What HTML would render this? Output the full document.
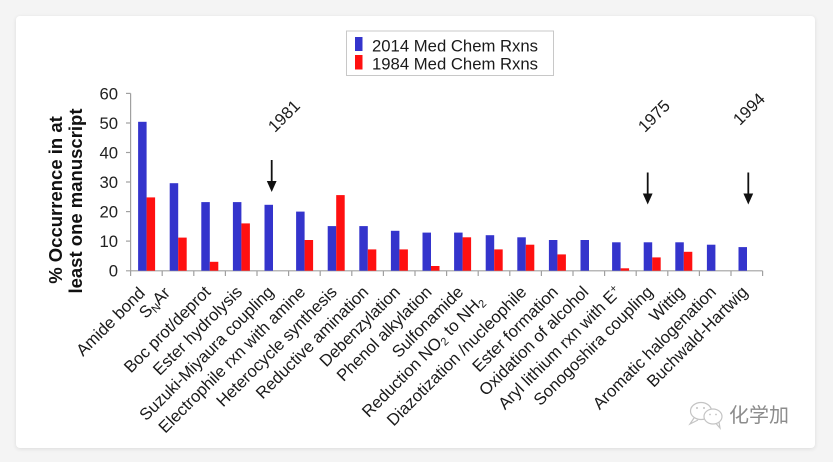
<!DOCTYPE html>
<html>
<head>
<meta charset="utf-8">
<style>
  html,body{margin:0;padding:0;background:#f4f4f4;}
  body{width:833px;height:462px;overflow:hidden;position:relative;}
  .card{position:absolute;left:16px;top:16px;width:799px;height:432px;background:#fff;border-radius:4px;box-shadow:0 1px 4px rgba(0,0,0,0.10);}
  svg{position:absolute;left:0;top:0;}
  text{font-family:"Liberation Sans",Arial,sans-serif;}
</style>
</head>
<body>
<div class="card"></div>
<svg width="833" height="462" viewBox="0 0 833 462" xmlns="http://www.w3.org/2000/svg">
  <!-- Legend -->
  <rect x="346.5" y="31" width="207" height="44.5" fill="#fff" stroke="#c8c8c8" stroke-width="1"/>
  <rect x="355" y="37" width="7.5" height="14" fill="#3434cc"/>
  <rect x="355" y="55" width="7.5" height="14.5" fill="#ff1010"/>
  <text x="372" y="51.5" font-size="16.7" fill="#1a1a1a">2014 Med Chem Rxns</text>
  <text x="372" y="69.5" font-size="16.7" fill="#1a1a1a">1984 Med Chem Rxns</text>

  <!-- Y axis title -->
  <text x="62" y="200" font-size="18.5" font-weight="bold" fill="#111" text-anchor="middle" transform="rotate(-90 62 200)">% Occurrence in at</text>
  <text x="82" y="201" font-size="18.5" font-weight="bold" fill="#111" text-anchor="middle" transform="rotate(-90 82 201)">least one manuscript</text>

  <!-- Y tick labels -->
  <g font-size="16.7" fill="#222" text-anchor="end">
    <text x="118" y="99.4">60</text>
    <text x="118" y="129">50</text>
    <text x="118" y="158.5">40</text>
    <text x="118" y="188">30</text>
    <text x="118" y="217.6">20</text>
    <text x="118" y="247.1">10</text>
    <text x="118" y="276.7">0</text>
  </g>

  <!-- Axes -->
  <g stroke="#a0a0a0" stroke-width="1.2" fill="none">
    <line x1="130.6" y1="93.4" x2="130.6" y2="271"/>
    <line x1="126" y1="93.4" x2="130.6" y2="93.4"/>
    <line x1="126" y1="123" x2="130.6" y2="123"/>
    <line x1="126" y1="152.5" x2="130.6" y2="152.5"/>
    <line x1="126" y1="182" x2="130.6" y2="182"/>
    <line x1="126" y1="211.6" x2="130.6" y2="211.6"/>
    <line x1="126" y1="241.1" x2="130.6" y2="241.1"/>
    <line x1="126" y1="270.8" x2="762.6" y2="270.8"/>
    <line x1="130.6" y1="270.8" x2="130.6" y2="276"/>
    <line x1="162.2" y1="270.8" x2="162.2" y2="276"/>
    <line x1="193.8" y1="270.8" x2="193.8" y2="276"/>
    <line x1="225.4" y1="270.8" x2="225.4" y2="276"/>
    <line x1="257" y1="270.8" x2="257" y2="276"/>
    <line x1="288.6" y1="270.8" x2="288.6" y2="276"/>
    <line x1="320.2" y1="270.8" x2="320.2" y2="276"/>
    <line x1="351.8" y1="270.8" x2="351.8" y2="276"/>
    <line x1="383.4" y1="270.8" x2="383.4" y2="276"/>
    <line x1="415" y1="270.8" x2="415" y2="276"/>
    <line x1="446.6" y1="270.8" x2="446.6" y2="276"/>
    <line x1="478.2" y1="270.8" x2="478.2" y2="276"/>
    <line x1="509.8" y1="270.8" x2="509.8" y2="276"/>
    <line x1="541.4" y1="270.8" x2="541.4" y2="276"/>
    <line x1="573" y1="270.8" x2="573" y2="276"/>
    <line x1="604.6" y1="270.8" x2="604.6" y2="276"/>
    <line x1="636.2" y1="270.8" x2="636.2" y2="276"/>
    <line x1="667.8" y1="270.8" x2="667.8" y2="276"/>
    <line x1="699.4" y1="270.8" x2="699.4" y2="276"/>
    <line x1="731" y1="270.8" x2="731" y2="276"/>
    <line x1="762.6" y1="270.8" x2="762.6" y2="276"/>
  </g>

  <!-- Bars: y(v)=270.7-2.955v ; blue x=start+7.5 w=8.5 ; red x=start+16 w=8.5 -->
  <g fill="#3434cc">
    <rect x="138.1" y="121.8" width="8.5" height="148.9"/>
    <rect x="169.7" y="183.2" width="8.5" height="87.5"/>
    <rect x="201.3" y="202.1" width="8.5" height="68.6"/>
    <rect x="232.9" y="202.1" width="8.5" height="68.6"/>
    <rect x="264.5" y="204.8" width="8.5" height="65.9"/>
    <rect x="296.1" y="211.6" width="8.5" height="59.1"/>
    <rect x="327.7" y="226.1" width="8.5" height="44.6"/>
    <rect x="359.3" y="226.1" width="8.5" height="44.6"/>
    <rect x="390.9" y="230.8" width="8.5" height="39.9"/>
    <rect x="422.5" y="232.6" width="8.5" height="38.1"/>
    <rect x="454.1" y="232.6" width="8.5" height="38.1"/>
    <rect x="485.7" y="235.2" width="8.5" height="35.5"/>
    <rect x="517.3" y="237.3" width="8.5" height="33.4"/>
    <rect x="548.9" y="240" width="8.5" height="30.7"/>
    <rect x="580.5" y="240" width="8.5" height="30.7"/>
    <rect x="612.1" y="242.3" width="8.5" height="28.4"/>
    <rect x="643.7" y="242.3" width="8.5" height="28.4"/>
    <rect x="675.3" y="242.3" width="8.5" height="28.4"/>
    <rect x="706.9" y="244.7" width="8.5" height="26"/>
    <rect x="738.5" y="247.1" width="8.5" height="23.6"/>
  </g>
  <g fill="#ff1010">
    <rect x="146.6" y="197.4" width="8.5" height="73.3"/>
    <rect x="178.2" y="237.6" width="8.5" height="33.1"/>
    <rect x="209.8" y="261.8" width="8.5" height="8.9"/>
    <rect x="241.4" y="223.4" width="8.5" height="47.3"/>
    <rect x="304.6" y="240" width="8.5" height="30.7"/>
    <rect x="336.2" y="195.1" width="8.5" height="75.6"/>
    <rect x="367.8" y="249.4" width="8.5" height="21.3"/>
    <rect x="399.4" y="249.4" width="8.5" height="21.3"/>
    <rect x="431" y="266" width="8.5" height="4.7"/>
    <rect x="462.6" y="237.3" width="8.5" height="33.4"/>
    <rect x="494.2" y="249.4" width="8.5" height="21.3"/>
    <rect x="525.8" y="244.7" width="8.5" height="26"/>
    <rect x="557.4" y="254.4" width="8.5" height="16.3"/>
    <rect x="620.6" y="268.3" width="8.5" height="2.4"/>
    <rect x="652.2" y="257.4" width="8.5" height="13.3"/>
    <rect x="683.8" y="251.8" width="8.5" height="18.9"/>
  </g>

  <!-- X category labels (rotated -45, anchored at end) -->
  <g font-size="16.7" fill="#1a1a1a" text-anchor="end">
    <text x="146" y="294" transform="rotate(-45 146 294)">Amide bond</text>
    <text x="171" y="294" transform="rotate(-45 171 294)">S<tspan font-size="11" dy="3">N</tspan><tspan dy="-3">Ar</tspan></text>
    <text x="211.5" y="293" transform="rotate(-45 211.5 293)">Boc prot/deprot</text>
    <text x="243.1" y="293" transform="rotate(-45 243.1 293)">Ester hydrolysis</text>
    <text x="274.7" y="293" transform="rotate(-45 274.7 293)">Suzuki-Miyaura coupling</text>
    <text x="306.3" y="293" transform="rotate(-45 306.3 293)">Electrophile rxn with amine</text>
    <text x="337.9" y="293" transform="rotate(-45 337.9 293)">Heterocycle synthesis</text>
    <text x="369.5" y="293" transform="rotate(-45 369.5 293)">Reductive amination</text>
    <text x="401.1" y="293" transform="rotate(-45 401.1 293)">Debenzylation</text>
    <text x="432.7" y="293" transform="rotate(-45 432.7 293)">Phenol alkylation</text>
    <text x="464.3" y="293" transform="rotate(-45 464.3 293)">Sulfonamide</text>
    <text x="485" y="302" transform="rotate(-45 485 302)">Reduction NO<tspan font-size="11" dy="3">2</tspan><tspan dy="-3"> to NH</tspan><tspan font-size="11" dy="3">2</tspan></text>
    <text x="527.5" y="293" transform="rotate(-45 527.5 293)">Diazotization /nucleophile</text>
    <text x="559.1" y="293" transform="rotate(-45 559.1 293)">Ester formation</text>
    <text x="589.5" y="293" transform="rotate(-45 589.5 293)">Oxidation of alcohol</text>
    <text x="622.3" y="293" transform="rotate(-45 622.3 293)">Aryl lithium rxn with E<tspan font-size="11" dy="-6">+</tspan></text>
    <text x="653.9" y="293" transform="rotate(-45 653.9 293)">Sonogoshira coupling</text>
    <text x="685.5" y="293" transform="rotate(-45 685.5 293)">Wittig</text>
    <text x="717.1" y="293" transform="rotate(-45 717.1 293)">Aromatic halogenation</text>
    <text x="748.7" y="293" transform="rotate(-45 748.7 293)">Buchwald-Hartwig</text>
  </g>

  <!-- Annotations -->
  <g font-size="16.7" fill="#1a1a1a" text-anchor="middle">
    <text x="288" y="120" transform="rotate(-45 288 120)">1981</text>
    <text x="658" y="120" transform="rotate(-45 658 120)">1975</text>
    <text x="753" y="113" transform="rotate(-45 753 113)">1994</text>
  </g>
  <g stroke="#111" stroke-width="1.8" fill="#111">
    <line x1="271.7" y1="160" x2="271.7" y2="186"/>
    <line x1="647.7" y1="172.5" x2="647.7" y2="198.5"/>
    <line x1="748.3" y1="172.5" x2="748.3" y2="198.5"/>
  </g>
  <g fill="#111">
    <polygon points="266.8,181 276.6,181 271.7,192"/>
    <polygon points="642.8,193.5 652.6,193.5 647.7,204.5"/>
    <polygon points="743.4,193.5 753.2,193.5 748.3,204.5"/>
  </g>

  <!-- Watermark -->
  <g fill="none" stroke="#c4c4c4" stroke-width="1.2">
    <ellipse cx="701" cy="411" rx="10.5" ry="8.5"/>
    <path d="M694 418 L690 424 L698 420"/>
    <ellipse cx="713" cy="416.5" rx="9" ry="7.5" fill="#fff"/>
    <path d="M716 423.5 L720 428 L719 422"/>
  </g>
  <g fill="#c4c4c4">
    <circle cx="697" cy="408" r="1"/>
    <circle cx="704" cy="408" r="1"/>
    <circle cx="710" cy="414.5" r="0.9"/>
    <circle cx="716" cy="414.5" r="0.9"/>
  </g>
  <text x="729" y="422" font-size="20" fill="#8c8c8c" font-family="'Liberation Sans','Noto Sans CJK SC',sans-serif">化学加</text>
</svg>
</body>
</html>
